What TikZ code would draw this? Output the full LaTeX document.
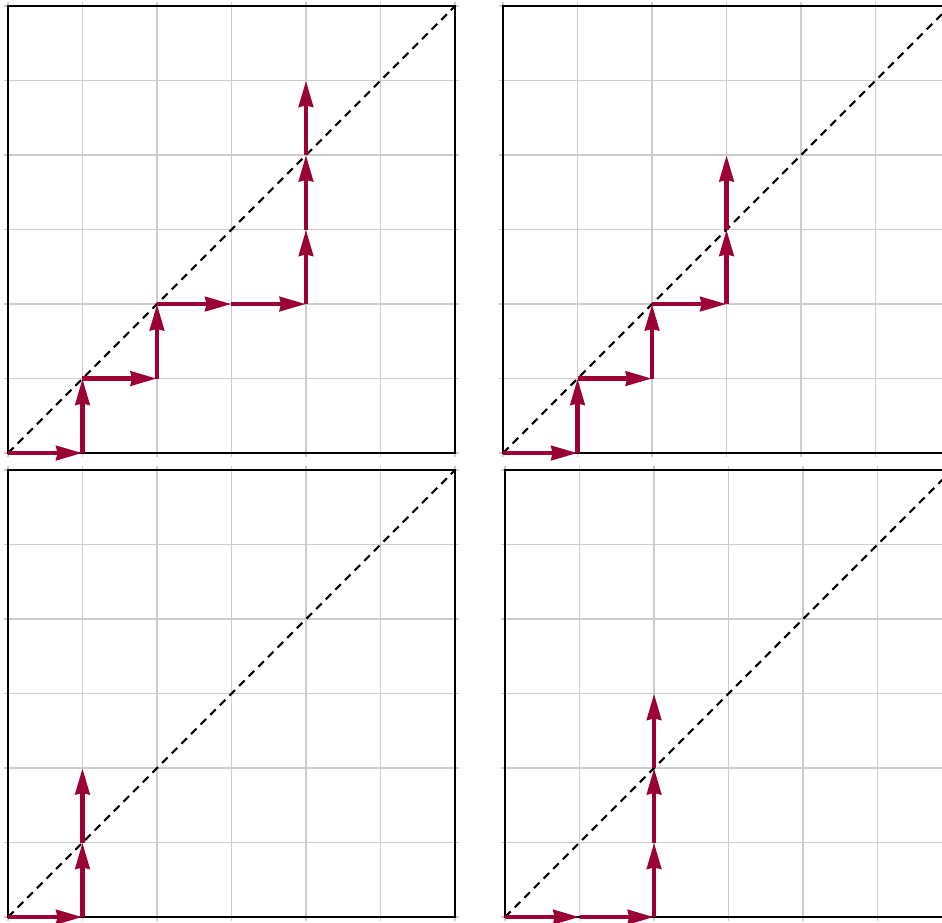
\documentclass[tikz,border=0pt]{standalone}
\usepackage{tikz}
\usetikzlibrary{arrows.meta}
\definecolor{walkred}{RGB}{155,0,55}

\begin{document}
\begin{tikzpicture}[>=Stealth,
  gridline/.style={gray!40,line width=0.6pt},
  frame/.style={black,line width=0.9pt},
  diag/.style={black,line width=0.8pt,dash pattern=on 3pt off 2.2pt},
  walkarrow/.style={walkred,line width=1.75pt,-{Stealth[length=10pt,width=5.4pt,inset=0.5pt]}}]
  \useasboundingbox (0,0) rectangle (12.644,12.376);

  % Panels: grid, frame, diagonal and lattice points
  \foreach \pn/\ox/\oy in {tl/0.107/6.295, tr/6.752/6.295, bl/0.107/0.067, br/6.779/0.067} {
    \begin{scope}[shift={(\ox,\oy)}]
      \foreach \k in {0,...,6} {
        \draw[gridline] (\k,-0.05) -- (\k,6.05);
        \draw[gridline] (-0.05,\k) -- (6.05,\k);
      }
      \draw[frame] (0,0) rectangle (6,6);
      \foreach \i in {0,...,6}
        \foreach \j in {0,...,6}
          \coordinate (\pn-\i-\j) at (\i,\j);
      \draw[diag] (\pn-0-0) -- (\pn-6-6);
    \end{scope}
  }

  % Lattice paths
  \foreach \a/\b in {0-0/1-0, 1-0/1-1, 1-1/2-1, 2-1/2-2, 2-2/3-2, 3-2/4-2, 4-2/4-3, 4-3/4-4, 4-4/4-5}
    \draw[walkarrow] (tl-\a) -- (tl-\b);
  \foreach \a/\b in {0-0/1-0, 1-0/1-1, 1-1/2-1, 2-1/2-2, 2-2/3-2, 3-2/3-3, 3-3/3-4}
    \draw[walkarrow] (tr-\a) -- (tr-\b);
  \foreach \a/\b in {0-0/1-0, 1-0/1-1, 1-1/1-2}
    \draw[walkarrow] (bl-\a) -- (bl-\b);
  \foreach \a/\b in {0-0/1-0, 1-0/2-0, 2-0/2-1, 2-1/2-2, 2-2/2-3}
    \draw[walkarrow] (br-\a) -- (br-\b);
\end{tikzpicture}
\end{document}
